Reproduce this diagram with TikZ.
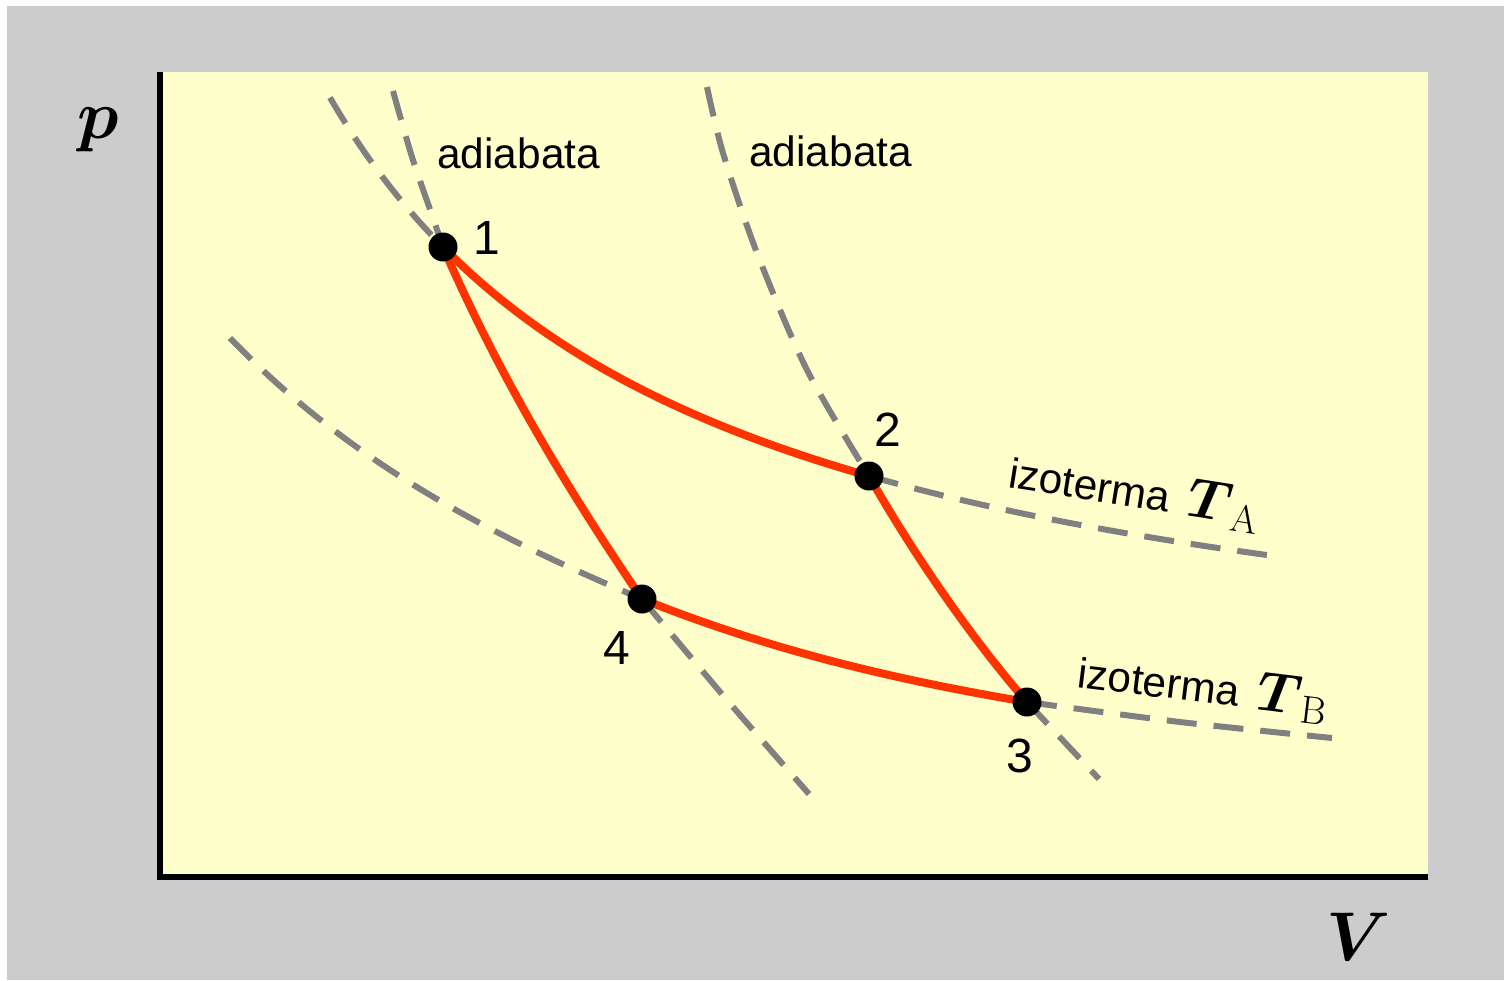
\RequirePackage{fix-cm}
\documentclass[tikz,border=0pt]{standalone}
\usepackage{amsmath}
\usepackage[no-math]{fontspec}
\setmainfont{Liberation Sans}
\definecolor{bggray}{HTML}{CCCCCC}
\definecolor{plotyellow}{HTML}{FFFFCC}
\definecolor{dashgray}{HTML}{808080}
\definecolor{cycred}{HTML}{FF3300}
\tikzset{
  guide/.style={draw=dashgray, line width=3pt, dash pattern=on 15pt off 8.5pt},
  cycle/.style={draw=cycred, line width=4pt, line cap=round, line join=round},
  dot/.style={circle, fill=black, inner sep=0pt, minimum size=14.5pt},
  lbl/.style={font=\fontsize{21.2}{25}\selectfont, inner sep=0pt},
  num/.style={font=\fontsize{24}{28}\selectfont, inner sep=0pt},
  axlbl/.style={font=\fontsize{34.5}{40}\selectfont, inner sep=0pt},
}
\newcommand{\bigmath}[1]{{\fontsize{28}{32}\selectfont$#1$}}
\begin{document}
\begin{tikzpicture}[x=0.5pt,y=-0.5pt,
  declare function={isoA(\t)=735.3-2355/((\t+39.3)/100);}]
  \useasboundingbox (0,0) rectangle (1504,980);
  \fill[white] (0,0) rectangle (1504,980);
  \fill[bggray] (7,6) rectangle (1504,980);
  \fill[plotyellow] (160,72) rectangle (1428,877);

  % state points
  \coordinate (p1) at (443,247);
  \coordinate (p2) at (869,476);
  \coordinate (p3) at (1027,702);
  \coordinate (p4) at (642,599);

  % isotherm T_A  (hyperbola)
  \draw[guide] plot[domain=330:443, samples=30] (\x, {isoA(\x)});
  \draw[guide] plot[domain=869:1267, samples=40] (\x, {isoA(\x)});
  % isotherm T_B
  \draw[guide] (230,338) .. controls (360,473) and (512,544) .. (p4);
  \draw[guide] plot[smooth] coordinates {(p3) (1180,722) (1332,738)};
  % adiabat through 1 and 4
  \draw[guide] plot[smooth] coordinates {(393,91) (412,157) (432,215) (p1)};
  \draw[guide] plot[smooth] coordinates {(p4) (727,700) (809,794)};
  % adiabat through 2 and 3
  \draw[guide] plot[smooth] coordinates {(707,87) (723,153) (757,253) (807,370) (p2)};
  \draw[guide] plot[smooth] coordinates {(p3) (1099,779)};

  % cycle
  \draw[cycle] plot[domain=443:869, samples=60] (\x, {isoA(\x)});
  \draw[cycle] (p2) .. controls (914,555) and (972,639) .. (p3);
  \draw[cycle] (p4) .. controls (772,651) and (897,680) .. (p3);
  \draw[cycle] (p1) .. controls (498,373) and (562,481) .. (p4);

  \node[dot] (n1) at (p1) {};
  \node[dot] (n2) at (p2) {};
  \node[dot] (n3) at (p3) {};
  \node[dot] (n4) at (p4) {};

  % axes
  \coordinate (ytop) at (160,72);
  \coordinate (orig) at (160,877);
  \coordinate (xend) at (1428,877);
  \draw[line width=3pt] (ytop) -- (orig) -- (xend);

  % labels
  \node[axlbl, anchor=base west] (pl) at (77,138) {$\boldsymbol{p}$};
  \node[axlbl, anchor=base west] (vl) at (1326,960) {$\boldsymbol{V}$};
  \node[lbl, anchor=base west] (ad1) at (437,168) {adiabata};
  \node[lbl, anchor=base west] (ad2) at (749,166) {adiabata};
  \node[num] (l1) at (487,238) {1};
  \node[num] (l2) at (888,430) {2};
  \node[num] (l3) at (1020,756) {3};
  \node[num] (l4) at (617,648) {4};
  \node[lbl, anchor=base west, rotate=-9] (ta) at (1007,487)
    {izoterma\hspace{9pt}\bigmath{\boldsymbol{T}_{\mathrm{A}}}};
  \node[lbl, anchor=base west, rotate=-7] (tb) at (1076,687)
    {izoterma\hspace{9pt}\bigmath{\boldsymbol{T}_{\mathrm{B}}}};
\end{tikzpicture}
\end{document}
